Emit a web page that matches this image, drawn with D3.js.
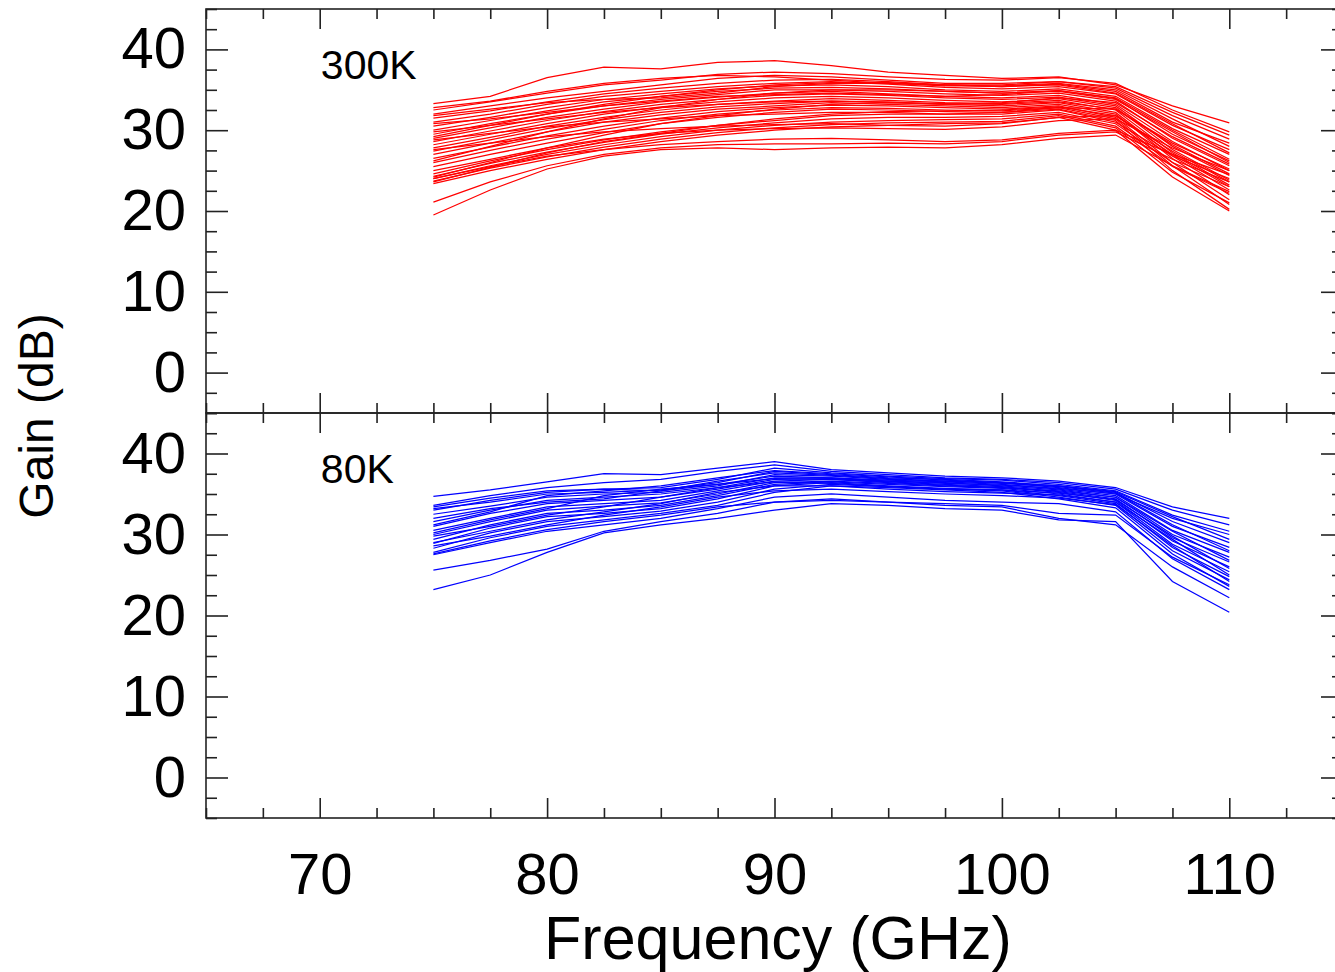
<!DOCTYPE html>
<html>
<head>
<meta charset="utf-8">
<script src="https://cdn.jsdelivr.net/npm/d3@7"></script>
<style>
  body { margin: 0; background: #fff; }
  svg { display: block; font-family: "Liberation Sans", Arial, Helvetica, sans-serif; }
  .curve { fill: none; stroke-width: 1.25; }
</style>
</head>
<body>
<div id="chart"></div>
<script>
// frequency grid of the sampled gain curves (GHz)
var freqs = [75, 77.5, 80, 82.5, 85, 87.5, 90, 92.5, 95, 97.5, 100, 102.5, 105, 107.5, 110];

var xMajor = [70, 80, 90, 100, 110];
var yMajor = [0, 10, 20, 30, 40];

// gain (dB) of each amplifier at 300K, one row per device
var gain300K = [
  [33.3, 34.2, 36.5, 37.8, 37.6, 38.4, 38.6, 38.0, 37.2, 36.8, 36.4, 36.6, 35.6, 33.0, 30.9],
  [32.5, 33.5, 34.6, 35.6, 36.2, 36.9, 37.2, 37.0, 36.6, 36.3, 36.2, 36.5, 35.8, 32.5, 29.8],
  [32.0, 33.0, 34.0, 34.8, 35.6, 36.4, 36.8, 36.6, 36.2, 35.8, 35.8, 36.0, 35.2, 31.8, 28.9],
  [31.5, 32.4, 33.5, 34.5, 35.2, 35.8, 36.2, 36.3, 36.0, 35.6, 35.4, 35.7, 34.8, 31.0, 28.4],
  [31.0, 32.0, 33.2, 34.2, 34.8, 35.4, 35.8, 36.0, 35.7, 35.3, 35.1, 35.4, 34.5, 30.6, 27.6],
  [30.5, 31.6, 32.8, 33.8, 34.5, 35.1, 35.5, 35.6, 35.4, 35.0, 34.8, 35.1, 34.2, 30.2, 27.0],
  [30.0, 31.2, 32.4, 33.5, 34.2, 34.8, 35.2, 35.3, 35.1, 34.8, 34.6, 34.9, 33.9, 29.5, 26.2],
  [29.5, 30.8, 32.0, 33.0, 33.8, 34.4, 35.0, 35.0, 34.8, 34.5, 34.3, 34.6, 33.6, 29.0, 25.6],
  [29.0, 30.3, 31.6, 32.6, 33.5, 34.1, 34.6, 34.8, 34.5, 34.2, 34.0, 34.3, 33.2, 28.6, 25.0],
  [28.6, 29.9, 31.2, 32.3, 33.2, 33.8, 34.3, 34.5, 34.3, 34.0, 33.8, 34.1, 33.0, 28.0, 24.4],
  [28.2, 29.5, 30.8, 32.0, 32.9, 33.5, 34.0, 34.2, 34.0, 33.7, 33.5, 33.9, 32.8, 27.6, 23.8],
  [27.8, 29.1, 30.5, 31.6, 32.5, 33.2, 33.6, 33.9, 33.7, 33.4, 33.3, 33.7, 32.5, 27.2, 23.2],
  [27.4, 28.8, 30.2, 31.3, 32.2, 32.9, 33.3, 33.6, 33.5, 33.2, 33.0, 33.4, 32.2, 26.8, 22.6],
  [27.0, 28.4, 29.8, 31.0, 31.9, 32.6, 33.0, 33.4, 33.2, 33.0, 32.8, 33.2, 32.0, 26.5, 22.0],
  [26.5, 27.9, 29.3, 30.5, 31.5, 32.3, 32.8, 33.1, 33.0, 32.8, 32.6, 33.0, 31.6, 26.0, 21.4],
  [26.0, 27.5, 28.9, 30.1, 31.2, 32.0, 32.5, 32.8, 32.7, 32.5, 32.4, 32.8, 31.4, 25.6, 20.8],
  [25.5, 27.0, 28.4, 29.7, 30.8, 31.6, 32.2, 32.6, 32.5, 32.3, 32.2, 32.6, 31.2, 25.0, 20.2],
  [24.6, 26.2, 27.6, 28.8, 29.8, 30.6, 31.2, 31.8, 32.0, 32.0, 32.0, 32.5, 31.0, 26.8, 24.0],
  [24.3, 25.9, 27.3, 28.5, 29.5, 30.3, 30.9, 31.4, 31.6, 31.6, 31.7, 32.2, 30.8, 26.0, 23.0],
  [24.0, 25.6, 27.0, 28.2, 29.2, 30.0, 30.6, 31.0, 31.2, 31.3, 31.4, 32.0, 30.5, 25.5, 22.2],
  [23.7, 25.3, 26.7, 27.9, 28.9, 29.7, 30.3, 30.7, 30.9, 31.0, 31.1, 31.8, 30.3, 24.8, 21.0],
  [23.4, 25.0, 26.4, 27.6, 28.6, 29.4, 30.0, 30.4, 30.6, 30.8, 30.9, 31.6, 30.0, 24.2, 20.0],
  [24.0, 25.5, 26.8, 27.6, 28.2, 28.6, 28.9, 29.0, 28.8, 28.6, 28.8, 29.6, 30.0, 27.0, 24.5],
  [21.1, 23.6, 25.6, 27.0, 27.8, 28.2, 28.3, 28.3, 28.4, 28.3, 28.6, 29.4, 29.8, 26.4, 23.6],
  [19.5, 22.6, 25.2, 26.8, 27.6, 27.8, 27.6, 27.8, 27.9, 27.8, 28.2, 29.0, 29.4, 25.6, 22.4],
  [31.8, 32.6, 33.4, 33.8, 34.0, 34.6, 35.4, 35.8, 35.8, 35.6, 35.6, 36.0, 35.4, 32.2, 29.4],
  [30.8, 31.4, 32.2, 33.0, 33.6, 34.2, 34.4, 34.6, 34.4, 34.2, 34.4, 34.9, 34.0, 30.0, 26.4],
  [29.8, 30.6, 31.4, 32.2, 32.8, 33.2, 33.5, 33.6, 33.4, 33.2, 33.4, 34.0, 33.4, 29.2, 25.8],
  [28.8, 29.6, 30.4, 31.0, 31.4, 31.8, 32.0, 32.2, 32.2, 32.0, 32.2, 32.8, 32.6, 28.2, 24.6],
  [27.6, 28.4, 29.2, 29.8, 30.2, 30.5, 30.7, 30.8, 30.6, 30.5, 30.8, 31.6, 31.8, 27.4, 23.6],
  [25.0, 26.4, 27.8, 28.9, 29.6, 30.0, 30.2, 30.3, 30.2, 30.1, 30.4, 31.2, 31.4, 27.8, 25.0],
  [32.8, 33.6, 34.8, 35.8, 36.4, 36.8, 36.6, 36.2, 35.8, 35.5, 35.5, 35.8, 35.0, 31.4, 28.0],
  [29.2, 30.6, 32.0, 33.2, 34.2, 35.0, 35.6, 35.9, 35.9, 35.6, 35.4, 35.6, 34.6, 30.8, 27.2],
  [26.2, 28.0, 29.8, 31.4, 32.8, 33.8, 34.6, 35.0, 35.0, 34.8, 34.6, 34.8, 33.8, 29.8, 26.0],
  [24.2, 26.0, 27.8, 29.4, 30.8, 31.8, 32.6, 33.2, 33.4, 33.3, 33.2, 33.5, 32.6, 28.4, 25.2],
  [23.6, 25.4, 27.2, 28.6, 29.6, 30.6, 31.4, 32.0, 32.3, 32.4, 32.5, 32.9, 31.8, 27.0, 23.0]
];

// gain (dB) of each amplifier at 80K
var gain80K = [
  [34.7, 35.5, 36.5, 37.5, 37.4, 38.2, 39.0, 38.0, 37.6, 37.2, 37.0, 36.6, 35.8, 33.4, 32.0],
  [33.6, 34.8, 35.8, 36.4, 36.8, 37.8, 38.6, 37.8, 37.4, 37.0, 36.8, 36.4, 35.6, 33.0, 31.2],
  [33.4, 34.5, 35.4, 35.6, 35.8, 36.8, 38.2, 37.6, 37.2, 36.9, 36.7, 36.2, 35.4, 32.4, 30.4],
  [33.2, 34.0, 35.0, 35.2, 35.5, 36.4, 37.8, 37.4, 37.0, 36.8, 36.5, 36.0, 35.2, 31.6, 29.0],
  [32.5, 33.5, 34.6, 35.0, 35.2, 36.0, 37.4, 37.2, 36.8, 36.6, 36.4, 35.8, 35.0, 31.0, 28.4],
  [31.6, 33.0, 34.2, 34.6, 35.0, 35.8, 37.0, 37.0, 36.7, 36.5, 36.2, 35.6, 34.8, 30.5, 27.8],
  [31.0, 32.6, 33.8, 34.2, 34.6, 35.6, 36.8, 36.9, 36.6, 36.4, 36.0, 35.5, 34.6, 30.0, 27.2],
  [30.5, 32.0, 33.4, 33.8, 34.2, 35.4, 36.6, 36.8, 36.5, 36.2, 35.9, 35.3, 34.4, 29.6, 26.6],
  [30.0, 31.6, 33.0, 33.5, 33.9, 35.0, 36.4, 36.6, 36.3, 36.0, 35.8, 35.2, 34.2, 29.2, 26.0],
  [29.4, 31.2, 32.6, 33.0, 33.6, 34.8, 36.2, 36.5, 36.2, 35.9, 35.7, 35.0, 34.0, 28.8, 25.4],
  [28.9, 30.8, 32.2, 32.6, 33.2, 34.4, 36.0, 36.4, 36.0, 35.7, 35.5, 34.8, 33.8, 28.4, 24.8],
  [28.3, 30.2, 31.6, 32.2, 32.9, 34.0, 35.6, 36.2, 35.9, 35.6, 35.4, 34.6, 33.6, 28.0, 24.4],
  [27.8, 29.6, 31.0, 31.8, 32.6, 33.6, 35.2, 36.0, 35.8, 35.5, 35.2, 34.4, 33.3, 27.6, 23.6],
  [27.5, 29.0, 30.4, 31.2, 32.0, 33.2, 34.6, 35.0, 34.6, 34.2, 34.0, 33.8, 32.8, 27.0, 23.2],
  [25.6, 26.8, 28.2, 30.4, 31.6, 32.6, 34.0, 34.4, 34.0, 33.6, 33.4, 32.0, 31.2, 26.0, 22.2],
  [23.2, 25.0, 27.8, 30.2, 31.2, 32.0, 33.0, 33.8, 33.6, 33.2, 33.0, 31.8, 31.6, 24.2, 20.4],
  [32.0, 33.2, 34.0, 34.4, 35.4, 36.6, 37.6, 37.3, 36.9, 36.6, 36.3, 35.9, 35.1, 31.2, 28.0],
  [30.2, 31.8, 33.2, 34.8, 35.6, 36.2, 36.9, 36.8, 36.4, 36.1, 35.8, 35.4, 34.6, 30.4, 26.8],
  [29.8, 31.0, 32.4, 33.4, 34.6, 35.8, 36.5, 36.3, 35.9, 35.6, 35.5, 35.1, 34.3, 29.8, 25.8],
  [29.0, 30.4, 31.8, 32.8, 33.8, 35.2, 36.0, 36.0, 35.6, 35.3, 35.1, 34.9, 34.0, 29.4, 25.0],
  [28.6, 29.8, 31.2, 32.4, 33.4, 34.6, 35.4, 35.6, 35.3, 35.0, 34.8, 34.5, 33.7, 28.6, 24.2],
  [27.6, 29.2, 30.6, 31.6, 32.4, 33.4, 34.0, 34.2, 34.0, 33.8, 33.6, 32.6, 32.4, 27.2, 23.8],
  [33.0, 34.2, 35.2, 35.6, 35.4, 36.2, 37.2, 37.0, 36.6, 36.3, 36.1, 35.7, 35.0, 32.0, 30.0],
  [31.2, 32.8, 34.8, 35.4, 36.0, 37.0, 37.9, 37.5, 37.1, 36.7, 36.4, 36.0, 35.3, 32.2, 29.4]
];

var width = 1335,
    height = 972;

// x runs past the right edge of the window, as in the original figure
var x = d3.scaleLinear().domain([65, 115]).range([206, 1343]);

var xMinor = d3.range(65, 115.01, 2.5).filter(function(v) { return xMajor.indexOf(v) < 0; });
var yMinor = d3.range(-5, 45.01, 2.5).filter(function(v) { return yMajor.indexOf(v) < 0; });

var panels = [
  {label: "300K", data: gain300K, color: "#ff0000", top: 9, bottom: 413, xLabels: false},
  {label: "80K", data: gain80K, color: "#0000ff", top: 413, bottom: 818, xLabels: true}
];

var svg = d3.select("#chart").append("svg")
    .attr("width", width)
    .attr("height", height);

function styleAxis(g) {
  g.select(".domain").remove();
  g.selectAll(".tick line").attr("stroke", "#222").attr("stroke-width", 1.6);
  g.selectAll("text")
      .attr("fill", "#000")
      .style("font-size", "58px")
      .style("font-family", "'Liberation Sans', Arial, sans-serif");
}

panels.forEach(function(p) {
  var y = d3.scaleLinear().domain([-5, 45]).range([p.bottom, p.top]);

  var line = d3.line()
      .x(function(d, i) { return x(freqs[i]); })
      .y(function(d) { return y(d); });

  // the curves
  svg.append("g")
    .selectAll("path")
    .data(p.data)
    .enter().append("path")
      .attr("class", "curve")
      .attr("stroke", p.color)
      .attr("d", line);

  // left axis, ticks pointing inwards
  svg.append("g")
      .attr("transform", "translate(" + x(65) + ",0)")
      .call(d3.axisLeft(y).tickValues(yMajor).tickSizeInner(-22).tickSizeOuter(0).tickPadding(20))
      .call(styleAxis);
  svg.append("g")
      .attr("transform", "translate(" + x(65) + ",0)")
      .call(d3.axisLeft(y).tickValues(yMinor).tickSizeInner(-11).tickSizeOuter(0).tickFormat(""))
      .call(styleAxis);

  // right axis
  svg.append("g")
      .attr("transform", "translate(" + x(115) + ",0)")
      .call(d3.axisRight(y).tickValues(yMajor).tickSizeInner(-22).tickSizeOuter(0).tickFormat(""))
      .call(styleAxis);
  svg.append("g")
      .attr("transform", "translate(" + x(115) + ",0)")
      .call(d3.axisRight(y).tickValues(yMinor).tickSizeInner(-11).tickSizeOuter(0).tickFormat(""))
      .call(styleAxis);

  // top axis
  svg.append("g")
      .attr("transform", "translate(0," + p.top + ")")
      .call(d3.axisTop(x).tickValues(xMajor).tickSizeInner(-20).tickSizeOuter(0).tickFormat(""))
      .call(styleAxis);
  svg.append("g")
      .attr("transform", "translate(0," + p.top + ")")
      .call(d3.axisTop(x).tickValues(xMinor).tickSizeInner(-10).tickSizeOuter(0).tickFormat(""))
      .call(styleAxis);

  // bottom axis
  var xAxis = d3.axisBottom(x).tickValues(xMajor).tickSizeInner(-20).tickSizeOuter(0).tickPadding(35);
  if (!p.xLabels) xAxis.tickFormat("");
  svg.append("g")
      .attr("transform", "translate(0," + p.bottom + ")")
      .call(xAxis)
      .call(styleAxis);
  svg.append("g")
      .attr("transform", "translate(0," + p.bottom + ")")
      .call(d3.axisBottom(x).tickValues(xMinor).tickSizeInner(-10).tickSizeOuter(0).tickFormat(""))
      .call(styleAxis);

  // frame
  svg.append("rect")
      .attr("x", x(65))
      .attr("y", p.top)
      .attr("width", x(115) - x(65))
      .attr("height", p.bottom - p.top)
      .attr("fill", "none")
      .attr("stroke", "#222")
      .attr("stroke-width", 1.6);

  // temperature label
  svg.append("text")
      .attr("x", x(70.05))
      .attr("y", p.top + 70)
      .style("font-size", "41px")
      .text(p.label);
});

// axis titles
svg.append("text")
    .attr("x", 778)
    .attr("y", 959)
    .attr("text-anchor", "middle")
    .style("font-size", "61px")
    .text("Frequency (GHz)");

svg.append("text")
    .attr("transform", "translate(53,416) rotate(-90)")
    .attr("text-anchor", "middle")
    .style("font-size", "48px")
    .text("Gain (dB)");
</script>
</body>
</html>
